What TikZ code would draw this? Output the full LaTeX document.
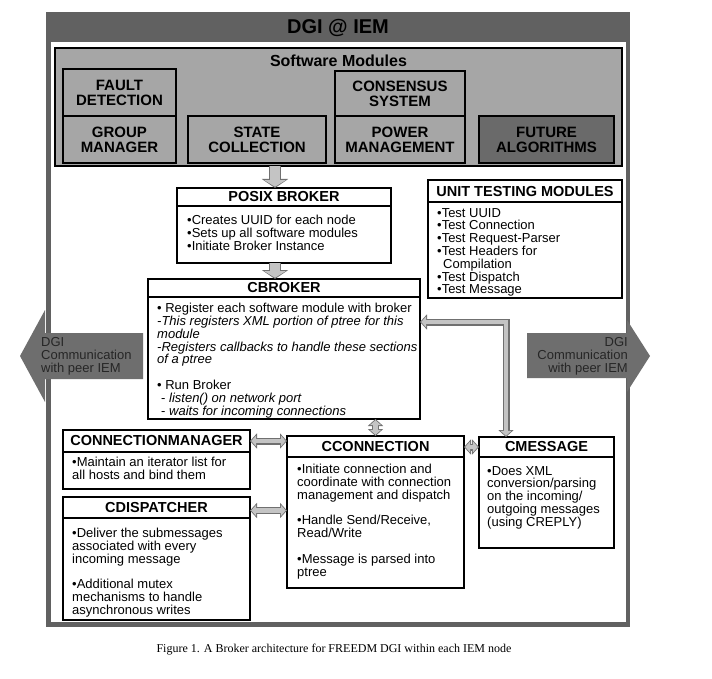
\documentclass[tikz,border=0pt]{standalone}
\usepackage{fontspec}
\setmainfont{Liberation Sans}
\newfontfamily\capfont{Liberation Serif}
\usetikzlibrary{positioning, arrows.meta}

\definecolor{framegray}{HTML}{616161}
\definecolor{modgray}{HTML}{A6A6A6}
\definecolor{futuregray}{HTML}{6A6A6A}
\definecolor{peergray}{HTML}{6E6E6E}
\definecolor{pipefill}{HTML}{C4C4C4}
\definecolor{pipeedge}{HTML}{707070}

\newcommand\framefont{\fontsize{20}{22}\selectfont\bfseries}
\newcommand\modfont{\fontsize{15}{15}\selectfont\bfseries}
\newcommand\hdfont{\fontsize{14.5}{16}\selectfont\bfseries}
\newcommand\txtfont{\fontsize{13}{12.8}\selectfont}
\newcommand\peerfont{\fontsize{13}{13}\selectfont}

\tikzset{
  otip/.tip={Triangle[width=15pt,length=7pt]},
  itip/.tip={Triangle[width=11pt,length=5pt]},
  obig/.tip={Triangle[width=26pt,length=9pt]},
  ibig/.tip={Triangle[width=21pt,length=6.6pt]},
}

\begin{document}
\begin{tikzpicture}[x=1pt, y=-1pt,
    module/.style={draw, line width=1.5pt, fill=modgray, font=\modfont, align=center, inner sep=0pt, outer sep=0pt},
    box/.style={draw, line width=1.8pt, fill=white, inner sep=0pt, outer sep=0pt},
    head/.style={draw, line width=1.5pt, font=\hdfont, inner sep=0pt, outer sep=0pt},
    txt/.style={font=\txtfont, align=left, inner sep=0pt},
    pipes/.style={draw=pipefill, line width=4.6pt, itip-itip, shorten >=1.2pt, shorten <=1.2pt,
        preaction={draw=pipeedge, line width=7pt, otip-otip, shorten >=0pt, shorten <=0pt}},
    bigpipe/.style={draw=pipefill, line width=9.6pt, -ibig, shorten >=1.2pt,
        preaction={draw=pipeedge, line width=12pt, -obig, shorten >=0pt}}]
\useasboundingbox (0,0) rectangle (712,679);

% outer frame
\fill[framegray] (46,12) rectangle (630,627);
\fill[white] (51,42) rectangle (626,622);
\node[font=\framefont] (dgi) at (338,28) {DGI @ IEM};

% software modules
\node[module, minimum width=567, minimum height=118] (sm) at (338.5,107) {};
\node[font=\fontsize{16}{18}\selectfont\bfseries] (smt) at (338.5,61) {Software Modules};
\node[module, minimum width=113, minimum height=47] (fault) at (119.5,92.5) {FAULT\\DETECTION};
\node[module, minimum width=113, minimum height=47] (group) at (119.5,139.5) {GROUP\\MANAGER};
\node[module, minimum width=138, minimum height=47] (state) at (257,139.5) {STATE\\COLLECTION};
\node[module, minimum width=130, minimum height=45] (consensus) at (400,93.5) {CONSENSUS\\SYSTEM};
\node[module, minimum width=130, minimum height=47] (power) at (400,139.5) {POWER\\MANAGEMENT};
\node[module, fill=futuregray, minimum width=135, minimum height=47] (future) at (546.5,139.5) {FUTURE\\ALGORITHMS};

% posix broker
\node[box, minimum width=214, minimum height=75] (posix) at (284,225.5) {};
\node[head, minimum width=214, minimum height=18, anchor=north] (posixh) at (posix.north) {POSIX BROKER};
\node[txt, below right=9pt and 10pt of posixh.south west] (posixt)
    {•Creates UUID for each node\\•Sets up all software modules\\•Initiate Broker Instance};

% cbroker
\node[box, minimum width=272, minimum height=140] (cbroker) at (284,349) {};
\node[head, minimum width=272, minimum height=18, anchor=north] (cbrokerh) at (cbroker.north) {CBROKER};
\node[txt, below right=6pt and 9pt of cbrokerh.south west] (cbrokert)
    {• Register each software module with broker\\
     \textit{-This registers XML portion of ptree for this}\\
     \textit{module}\\
     \textit{-Registers callbacks to handle these sections}\\
     \textit{of a ptree}\\[12.8pt]
     • Run Broker\\
     \hspace*{4pt}- \textit{listen() on network port}\\
     \hspace*{4pt}- \textit{waits for incoming connections}};

% unit testing
\node[box, minimum width=194, minimum height=118] (unit) at (525,239) {};
\node[head, minimum width=194, minimum height=22, text depth=-1pt, anchor=north] (unith) at (unit.north) {UNIT TESTING MODULES};
\node[txt, below right=6pt and 9pt of unith.south west] (unitt)
    {•Test UUID\\•Test Connection\\•Test Request-Parser\\•Test Headers for\\
     \hspace*{6pt}Compilation\\•Test Dispatch\\•Test Message};

% connection manager
\node[box, minimum width=187, minimum height=59] (connmgr) at (156.5,459.5) {};
\node[head, minimum width=187, minimum height=22, anchor=north] (connmgrh) at (connmgr.north) {CONNECTIONMANAGER};
\node[txt, below right=5pt and 9pt of connmgrh.south west] (connmgrt)
    {•Maintain an iterator list for\\all hosts and bind them};

% dispatcher
\node[box, minimum width=187, minimum height=123] (cdisp) at (156.5,558.5) {};
\node[head, minimum width=187, minimum height=21, anchor=north] (cdisph) at (cdisp.north) {CDISPATCHER};
\node[txt, below right=10pt and 9pt of cdisph.south west] (cdispt)
    {•Deliver the submessages\\associated with every\\incoming message\\[12.8pt]
     •Additional mutex\\mechanisms to handle\\asynchronous writes};

% connection
\node[box, minimum width=177, minimum height=152] (cconn) at (375.5,512) {};
\node[head, minimum width=177, minimum height=21, anchor=north] (cconnh) at (cconn.north) {CCONNECTION};
\node[txt, below right=7pt and 10pt of cconnh.south west] (cconnt)
    {•Initiate connection and\\coordinate with connection\\management and dispatch\\[12.8pt]
     •Handle Send/Receive,\\Read/Write\\[12.8pt]
     •Message is parsed into\\ptree};

% message
\node[box, minimum width=135, minimum height=111] (cmess) at (546.5,492.5) {};
\node[head, minimum width=135, minimum height=20, anchor=north] (cmessh) at (cmess.north) {CMESSAGE};
\node[txt, below right=9pt and 8pt of cmessh.south west] (cmesst)
    {•Does XML\\conversion/parsing\\on the incoming/\\outgoing messages\\(using CREPLY)};

% peer IEM arrows
\fill[peergray] (143,333) -- (45,333) -- (45,310) -- (20,356) -- (45,402) -- (45,379) -- (143,379) -- cycle;
\node[txt, font=\peerfont, text=black!85, anchor=west] (peerl) at (41,356) {DGI\\Communication\\with peer IEM};
\fill[peergray] (527,333) -- (627,333) -- (627,320) -- (650,356) -- (627,392) -- (627,378) -- (527,378) -- cycle;
\node[txt, font=\peerfont, text=black!85, align=right, anchor=east] (peerr) at (628,356) {DGI\\Communication\\with peer IEM};

% links
\coordinate (spine) at (275,0);
\coordinate (elbow) at (506,322);
\draw[bigpipe] (sm.south -| spine) -- (posix.north -| spine);
\draw[bigpipe] (posix.south -| spine) -- (cbroker.north -| spine);
\draw[pipes] (cbroker.south -| cconn.north) -- (cconn.north);
\draw[pipes] (connmgrh.east) -- (connmgrh.east -| cconn.west);
\draw[pipes] ([yshift=-3pt]cdisph.east) -- ([yshift=-3pt]cdisph.east -| cconn.west);
\draw[pipes] (cmessh.west -| cconn.east) -- (cmessh.west);
\draw[pipes] (elbow -| cbroker.east) -- (elbow) -- (elbow |- cmess.north);

\node[font=\capfont\fontsize{12}{14}\selectfont] (cap) at (334,650)
    {Figure 1. A Broker architecture for FREEDM DGI within each IEM node};
\end{tikzpicture}
\end{document}
